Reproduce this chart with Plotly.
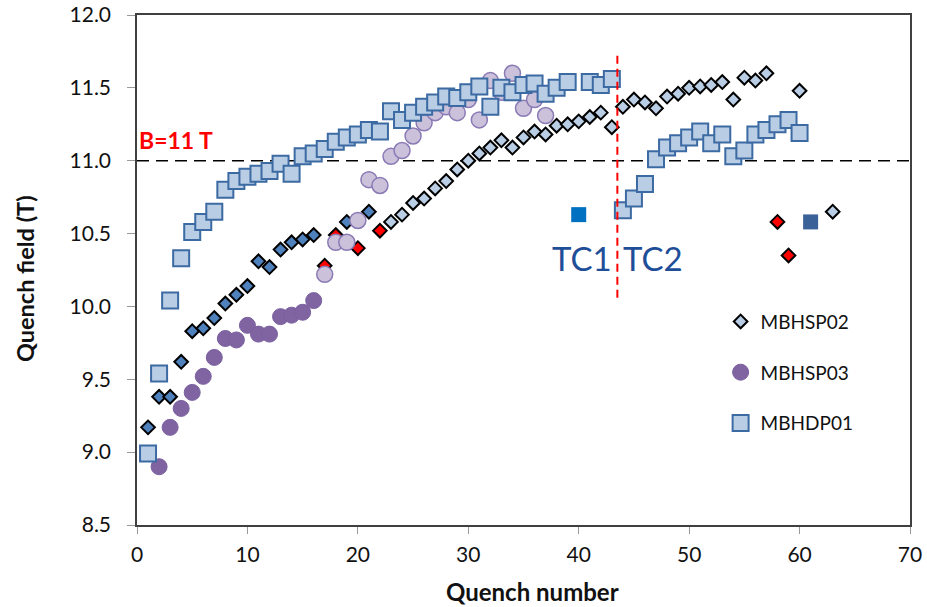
import plotly.graph_objects as go

# ---- Quench training data ------------------------------------------------
# MBHSP02: quench number, quench field (T) and colour class of each point
sp02_n = list(range(1, 61)) + [63]
sp02_b = [9.17, 9.38, 9.38, 9.62, 9.83, 9.85, 9.92, 10.02, 10.08, 10.14,
          10.31, 10.27, 10.39, 10.44, 10.46, 10.49, 10.28, 10.49, 10.58, 10.40,
          10.65, 10.52, 10.58, 10.63, 10.71, 10.74, 10.81, 10.86, 10.94, 11.00,
          11.05, 11.09, 11.14, 11.09, 11.16, 11.20, 11.18, 11.24, 11.25, 11.27,
          11.30, 11.33, 11.23, 11.37, 11.42, 11.40, 11.36, 11.44, 11.46, 11.50,
          11.51, 11.52, 11.54, 11.42, 11.57, 11.55, 11.60, 10.58, 10.35, 11.48,
          10.65]
sp02_cls = (["first"] * 16 + ["red", "red", "first", "red", "first", "red"]
            + ["main"] * 35 + ["red", "red", "main", "main"])

# MBHSP03
sp03_n = list(range(2, 38))
sp03_b = [8.90, 9.17, 9.30, 9.41, 9.52, 9.65, 9.78, 9.77, 9.87, 9.81,
          9.81, 9.93, 9.94, 9.96, 10.04, 10.22, 10.44, 10.44, 10.59, 10.87,
          10.83, 11.03, 11.07, 11.17, 11.26, 11.33, 11.37, 11.33, 11.42, 11.28,
          11.55, 11.47, 11.60, 11.36, 11.42, 11.31]
sp03_cls = ["first"] * 15 + ["main"] * 21

# MBHDP01
dp01_n = list(range(1, 40)) + list(range(41, 61))
dp01_b = [8.99, 9.54, 10.04, 10.33, 10.51, 10.58, 10.65, 10.80, 10.86, 10.89,
          10.91, 10.93, 10.98, 10.91, 11.03, 11.05, 11.08, 11.13, 11.16, 11.18,
          11.21, 11.20, 11.34, 11.28, 11.33, 11.37, 11.40, 11.44, 11.43, 11.47,
          11.51, 11.37, 11.50, 11.47, 11.52, 11.53, 11.46, 11.50, 11.54,
          11.54, 11.52, 11.56, 10.66, 10.74, 10.84, 11.01, 11.09, 11.12, 11.16,
          11.20, 11.12, 11.18, 11.03, 11.07, 11.18, 11.21, 11.25, 11.28, 11.19]

# Thermal-cycle quenches
tc_n = [40, 61]
tc_b = [10.63, 10.58]
tc_names = ["TC1", "TC2"]

nominal_field = 11.0
tc_boundary = 43.5

FONT = "Lato"
TEXT = "#111111"


def subset(xs, ys, cls, key):
    pts = [(x, y) for x, y, c in zip(xs, ys, cls) if c == key]
    return [p[0] for p in pts], [p[1] for p in pts]


fig = go.Figure()

# MBHSP02 diamonds
diamond_fill = {"first": "#4f81bd", "red": "#ff0000", "main": "#b9cde5"}
for key in ["first", "main", "red"]:
    xs, ys = subset(sp02_n, sp02_b, sp02_cls, key)
    fig.add_trace(go.Scatter(
        x=xs, y=ys, mode="markers", name="MBHSP02",
        legendgroup="g1", legendrank=1, showlegend=(key == "main"),
        marker=dict(symbol="diamond", size=10.5, color=diamond_fill[key],
                    line=dict(color="#000000", width=2)),
    ))

# MBHSP03 circles
circle_style = {
    "first": dict(color="#8064a2", line=dict(color="#7a60a0", width=1)),
    "main": dict(color="#ccc1da", line=dict(color="#8a7ab5", width=1.5)),
}
for key in ["first", "main"]:
    xs, ys = subset(sp03_n, sp03_b, sp03_cls, key)
    fig.add_trace(go.Scatter(
        x=xs, y=ys, mode="markers", name="MBHSP03",
        legendgroup="g2", legendrank=2, showlegend=(key == "first"),
        marker=dict(symbol="circle", size=16, **circle_style[key]),
    ))

# MBHDP01 squares
fig.add_trace(go.Scatter(
    x=dp01_n, y=dp01_b, mode="markers", name="MBHDP01",
    legendgroup="g3", legendrank=3,
    marker=dict(symbol="square", size=16, color="#b9cde5",
                line=dict(color="#3c6aa3", width=2)),
))

# Thermal-cycle points
fig.add_trace(go.Scatter(
    x=tc_n, y=tc_b, mode="markers", showlegend=False,
    marker=dict(symbol="square", size=15, color=["#0070c0", "#3a6298"]),
))

# Reference lines
fig.add_shape(type="line", x0=0, x1=70, y0=nominal_field, y1=nominal_field,
              line=dict(color="#000000", width=1.5, dash="12px,7px"), layer="below")
fig.add_shape(type="line", x0=tc_boundary, x1=tc_boundary, y0=10.06, y1=11.75,
              line=dict(color="#ff0000", width=2, dash="8px,5px"))

fig.add_annotation(x=0, y=11.14, xref="x", yref="y", xanchor="left", yanchor="middle",
                   text="<b>B=11 T</b>", showarrow=False,
                   font=dict(family=FONT, size=23, color="#ff0000"))
fig.add_annotation(x=tc_boundary - 0.3, y=10.33, xanchor="right", yanchor="middle",
                   text=tc_names[0], showarrow=False,
                   font=dict(family=FONT, size=33, color="#1f4e99"))
fig.add_annotation(x=tc_boundary + 0.3, y=10.33, xanchor="left", yanchor="middle",
                   text=tc_names[1], showarrow=False,
                   font=dict(family=FONT, size=33, color="#1f4e99"))

# Axis titles
fig.add_annotation(xref="paper", yref="paper", x=0.512, y=-0.131,
                   xanchor="center", yanchor="middle", showarrow=False,
                   text="<b>Quench number</b>",
                   font=dict(family=FONT, size=24, color=TEXT))
fig.add_annotation(xref="paper", yref="paper", x=-0.145, y=0.484,
                   xanchor="center", yanchor="middle", showarrow=False,
                   textangle=-90, text="<b>Quench field (T)</b>",
                   font=dict(family=FONT, size=23.5, color=TEXT))

axis_common = dict(
    showgrid=False, zeroline=False, showline=True, mirror=True,
    linecolor="#404040", linewidth=1.5, automargin=False,
    ticks="outside", tickcolor="#999999", tickwidth=1,
    tickfont=dict(family=FONT, size=21, color=TEXT),
)

fig.update_xaxes(range=[0, 70], dtick=10, ticklen=7, ticklabelstandoff=3, **axis_common)
fig.update_yaxes(range=[8.5, 12.0], dtick=0.5, tickformat=".1f", ticklen=8,
                 ticklabelstandoff=12, **axis_common)

fig.update_layout(
    width=927, height=607,
    margin=dict(l=137, r=17, t=15, b=82, autoexpand=False),
    plot_bgcolor="#ffffff", paper_bgcolor="#ffffff",
    font=dict(family=FONT),
    legend=dict(x=0.755, y=0.436, xanchor="left", yanchor="top",
                traceorder="grouped", tracegroupgap=23,
                bgcolor="rgba(0,0,0,0)", itemwidth=30,
                font=dict(family=FONT, size=19, color=TEXT)),
)

fig.write_html("out.html")
